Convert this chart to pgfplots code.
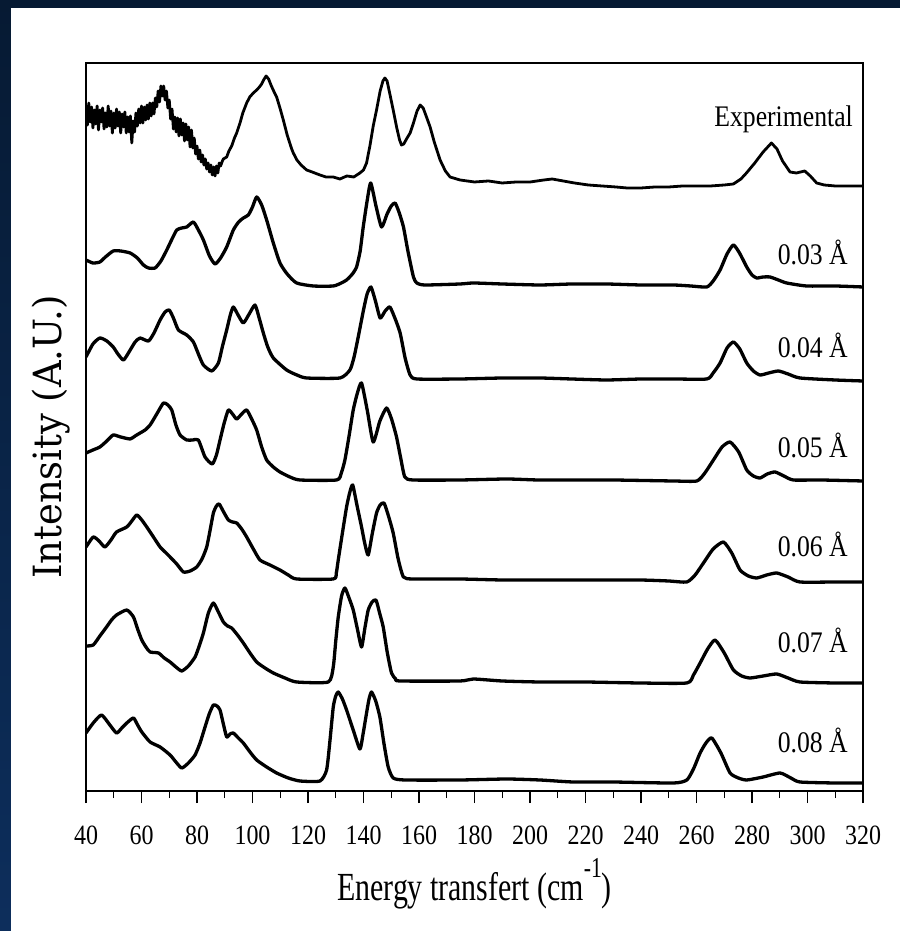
\documentclass[border=0pt]{standalone}
\usepackage{fontspec}
\setmainfont{Liberation Serif}
\newfontfamily\ylabfont{DejaVu Serif}[FakeStretch=0.95]
\newfontfamily\xlabfont{Liberation Serif}[FakeStretch=0.75]
\newfontfamily\tickfont{Liberation Serif}[FakeStretch=0.86]
\newfontfamily\notefont{Liberation Serif}[FakeStretch=0.86]
\usepackage{pgfplots}
\usepackage{pgfplotstable}
\pgfplotsset{compat=1.18}

\definecolor{navytop}{HTML}{061A33}
\definecolor{navybot}{HTML}{0D2E5C}

% Measured spectrum
\pgfplotstableread{
x y
40.0 684
40.5 666
41.0 688
41.5 669
42.0 684
42.5 663
43.0 681
43.5 667
44.0 685
44.5 661
45.0 681
45.5 669
46.0 683
46.5 662
47.0 678
47.5 664
48.0 685
48.5 665
49.0 680
49.5 658
50.0 678
50.5 663
51.0 682
51.5 665
52.0 679
52.5 658
53.0 677
53.5 664
54.0 679
54.5 658
55.0 674
55.5 659
56.0 675
56.5 648
57.0 670
57.5 659
58.0 678
58.5 665
59.0 682
59.5 668
60.0 685
60.5 668
61.0 684
61.5 671
62.0 686
62.5 672
63.0 688
63.5 675
64.0 688
64.5 677
65.0 693
65.5 684
66.0 700
66.5 689
67.0 705
67.5 695
68.0 705
68.5 691
69.0 700
69.5 683
70.0 691
70.5 672
71.0 682
71.5 662
72.0 674
72.5 659
73.0 673
73.5 655
74.0 672
74.5 656
75.0 668
75.5 650
76.0 667
76.5 651
77.0 664
77.5 644
78.0 661
78.5 643
79.0 653
79.5 637
80.0 645
80.5 632
81.0 641
81.5 629
82.0 636
82.5 626
83.0 632
83.5 622
84.0 628
84.5 619
85.0 626
85.5 616
86.0 624
86.5 615
87.0 625
87.5 618
88.0 628
88.5 625
89.0 629
89.5 632
90.7 634
91.5 640
92.5 645
93.5 653
94.3 658
95.5 668
96.5 678
97.9 688
99.0 694
100.3 698
101.5 701
102.5 704
103.3 707
104.0 711
104.9 715
105.8 712
106.8 705
107.8 699
108.7 694
110.0 682
111.1 671
112.5 656
114.0 643
114.7 638
116.0 631
117.5 626
119.5 621
121.5 619
124.3 616
126.5 614
129.1 614
131.5 612
134.0 615
136.5 614
138.7 618
140.0 621
141.1 628
142.3 645
143.5 665
144.7 681
146.0 700
147.0 710
147.7 713
148.5 710
149.5 697
150.7 681
152.0 663
153.0 651
153.7 646
154.5 647
155.5 652
156.8 658
158.0 668
159.3 680
160.4 686
161.5 683
162.7 674
164.0 664
165.5 649
167.6 631
169.5 620
171.2 614
174.8 611
180 609
185 610
190 608
195 609
200 609
205 611
208 612
212 610
216 608
221 606
226 605
231 604
235 603
240 603
245 604
250 604
255 605
260 605
265 605
270 606
273.3 607
276 612
278 618
281 628
284 639
287 648
289 642
291 630
293.7 619
296 618
299 620
301 615
303.3 608
306 606
310 605
315 605
320 605
}\expdata

% Calculated spectra, one per displacement amplitude
\pgfplotstableread{
x y
40.0 531
42.5 528
45.0 529
47.0 534
49.8 540
52.5 540
55.9 538
58.5 533
60.7 526
62.5 523
64.9 523
67.0 530
69.1 541
71.0 552
72.7 561
74.5 563
76.3 564
78.7 569
80.5 561
82.3 551
84.5 535
86.5 527
88.5 533
90.7 544
93.1 561
95.0 569
96.7 573
98.5 576
100.0 584
101.5 594
103.3 586
105.1 571
107.5 548
109.9 528
112.5 517
115.9 508
121.9 505
129.1 505
132.0 508
133.9 511
136.0 517
137.5 524
138.8 540
139.9 564
141.3 590
142.6 608
144.5 585
146.5 564
148.5 577
150.0 585
151.4 588
152.9 578
154.4 564
156.0 540
158.0 514
159.2 508
162.0 506
174.8 507
179.6 508
190 507
203.6 506
215 507
227.6 507
240 506
251.7 506
258 505
263.7 504
266 510
268.5 521
271 537
273.3 546
275.5 538
278.1 524
280 516
281.7 513
284 514
286.5 514
289.5 511
292.5 508
299.7 505
310 505
320 504
}\calcA

\pgfplotstableread{
x y
40.0 434
42.5 447
45.0 453
47.5 450
49.8 444
51.5 437
53.5 431
55.5 439
57.7 449
59.5 453
62.5 450
64.5 458
66.7 471
68.5 479
70.0 481
71.5 473
73.3 461
76.3 456
78.7 449
80.5 437
82.3 426
85.3 420
87.7 428
89.2 445
90.7 461
92.0 476
93.1 484
94.8 476
96.7 468
98.8 477
100.9 486
102.4 473
103.9 458
105.5 444
107.5 433
112.3 421
116 416
119.5 413
131.5 413
135.1 421
136.6 434
138.1 454
140.0 481
141.3 497
142.7 504
144.3 490
146.0 473
147.8 480
149.5 484
151.3 473
153.2 458
155.0 433
156.8 416
159.2 412
174.8 412
190 413
203.6 413
215 412
227.6 411
240 412
252 412
263.7 412
266 418
268.5 428
271 443
273.3 449
275.6 442
278.1 428
280.5 420
282.9 416
286 418
289.5 420
293 417
297.3 413
310 411
320 410
}\calcB

\pgfplotstableread{
x y
40.0 338
42.5 341
45.0 344
47.5 350
49.8 356
52.5 354
55.9 352
57.7 355
59.5 358
61.3 361
63.1 366
65.5 377
67.9 388
69.5 386
70.9 381
72.4 366
73.9 356
76.3 351
78.5 351
80.5 351
82.9 334
85.5 327
87.0 336
88.3 351
89.8 368
91.3 381
92.8 377
94.3 372
96.1 377
97.9 381
99.7 372
101.5 361
103.3 344
105.1 331
107.5 324
109.9 319
113.5 314
117.1 311
130.3 311
132.0 318
133.3 331
134.8 355
136.3 381
137.8 398
139.3 408
141.4 380
143.5 349
145.9 370
148.3 383
150.1 372
151.9 354
153.4 333
154.9 314
157.9 311
174.8 311
191.6 312
203 311
215.6 311
230 311
251.7 310
260.1 310
263 318
266.1 331
269.2 344
272.1 349
275.2 339
278.1 321
280.5 315
282.9 313
285.5 317
288.3 319
291.5 315
294.9 311
305 311
320 310
}\calcC

\pgfplotstableread{
x y
40.0 244
42.6 254
44.7 250
46.8 244
49.0 251
51.0 259
54.7 264
56.5 270
58.3 276
60.1 271
61.9 264
64.3 254
66.7 244
68.5 239
70.3 234
72.7 227
75.1 219
77.5 220
79.9 224
81.8 232
83.5 244
84.8 262
85.9 278
87.0 285
88.0 287
89.6 279
91.3 271
92.8 269
94.3 268
96.1 262
97.9 254
100.3 242
102.7 231
106.3 226
109.9 221
112.9 216
115.9 212
129.1 212
130.2 218
130.9 231
132.4 258
133.9 284
135.0 298
136.1 306
137.7 285
139.3 264
140.5 247
141.7 236
143.2 258
144.7 278
146.0 286
147.4 288
149.0 275
150.7 258
152.5 232
154.4 214
157.9 212
174.8 212
190 211
203.6 211
220 211
239.6 211
250 210
256.5 209
259.5 216
262.5 228
266 242
269.7 249
272.7 238
275.7 221
278.7 215
281.7 213
285.3 216
288.9 218
293 214
297.3 209
310 209
320 209
}\calcD

\pgfplotstableread{
x y
40.0 145
42.6 146
45.0 155
47.4 164
49.2 171
51.0 176
54.7 181
57.1 174
58.6 162
60.1 151
61.6 144
63.1 139
66.1 138
68.2 133
70.3 129
72.4 124
74.5 120
76.9 125
79.3 134
80.8 145
82.3 158
84.1 178
85.9 188
87.7 179
89.5 169
91.0 165
92.5 163
94.6 156
96.7 148
99.1 138
101.5 129
104.5 123
107.5 118
111.7 113
115.9 109
127.3 109
129.1 124
130.0 150
130.9 174
132.1 195
133.3 203
134.8 193
136.3 181
137.8 162
139.3 144
140.5 163
141.7 181
143.1 189
144.5 191
145.8 178
147.1 164
148.6 138
150.1 118
151.6 112
153.1 110
174.8 110
179.6 112
190 110
203.6 109
220 109
239.6 108
256.5 108
258.9 116
261.3 128
264 142
266.7 151
270 138
273.3 121
276.3 115
279.3 113
284 115
288.9 117
293 113
297.3 109
310 108
320 108
}\calcE

\pgfplotstableread{
x y
40.0 58
42.6 68
45.6 76
48.6 66
51.0 58
52.9 63
54.7 68
57.1 73
58.6 66
60.1 59
63.1 49
66.7 44
70.3 36
72.4 29
74.5 23
76.9 28
79.3 36
81.1 48
82.9 64
84.4 77
85.9 86
87.2 85
88.3 81
89.5 67
90.7 54
91.9 57
93.1 58
94.9 53
96.7 48
99.1 39
101.5 31
105.1 24
108.7 18
112.9 13
117.1 10
124.3 10
126.7 21
127.9 50
129.1 84
130.0 95
130.9 99
132.4 92
133.9 81
136.3 61
138.7 42
139.9 58
141.1 78
142.0 92
142.9 99
144.4 90
145.9 74
147.4 47
148.9 24
150.7 13
155 11
174.8 11
191.6 12
203.6 11
215.6 9
230 9
251.7 8
256.5 11
258.9 22
261.3 38
263.4 48
265.5 53
268.8 38
272.1 18
275.1 13
278.1 11
284 14
290.1 18
294 13
297.3 9
310 8
320 8
}\calcF

\begin{document}
\begin{tikzpicture}
% slide background and white panel
\useasboundingbox (0,0) rectangle (900bp,931bp);
\shade[top color=navytop, bottom color=navybot] (0,0) rectangle (900bp,931bp);
\fill[white] (11bp,0) rectangle (900bp,923bp);

\begin{axis}[
  at={(86bp,140bp)}, anchor=south west,
  scale only axis, width=777bp, height=728bp,
  xmin=40, xmax=320, ymin=0, ymax=728,
  xtick={40,60,...,320}, minor x tick num=1,
  ytick=\empty,
  xtick pos=bottom, tick align=outside,
  major tick length=12bp, minor tick length=7bp,
  axis line style={line width=1.3bp},
  every tick/.style={black, line width=1.3bp},
  /pgf/number format/assume math mode=true,
  xticklabel style={font=\tickfont\fontsize{28}{28}\selectfont, anchor=base, yshift=-41bp},
  every axis x label/.style={at={(axis description cs:0.5,0)}, anchor=base, yshift=-109bp},
  every axis y label/.style={at={(axis description cs:-0.0309,0.486)}, rotate=90, anchor=base},
  xlabel={\xlabfont\fontsize{40}{40}\selectfont Energy transfert (cm\raisebox{23bp}{\fontsize{29}{29}\selectfont -1})},
  ylabel={\ylabfont\fontsize{39}{39}\selectfont Intensity (A.U.)},
  clip=true,
]
\addplot[black, line width=2.8bp, line join=round] table {\expdata};
\addplot[black, line width=3.3bp, line join=round, smooth, tension=0.35] table {\calcA};
\addplot[black, line width=3.3bp, line join=round, smooth, tension=0.35] table {\calcB};
\addplot[black, line width=3.3bp, line join=round, smooth, tension=0.35] table {\calcC};
\addplot[black, line width=3.3bp, line join=round, smooth, tension=0.35] table {\calcD};
\addplot[black, line width=3.3bp, line join=round, smooth, tension=0.35] table {\calcE};
\addplot[black, line width=3.3bp, line join=round, smooth, tension=0.35] table {\calcF};

\begin{scope}[every node/.style={anchor=base east, inner sep=0pt, font=\notefont\fontsize{30}{30}\selectfont}]
\node at (axis cs:316.4,664) {Experimental};
\node at (axis cs:314.6,526) {0.03 Å};
\node at (axis cs:314.6,433) {0.04 Å};
\node at (axis cs:314.6,333) {0.05 Å};
\node at (axis cs:314.6,234) {0.06 Å};
\node at (axis cs:314.6,138) {0.07 Å};
\node at (axis cs:314.6,38) {0.08 Å};
\end{scope}
\end{axis}
\end{tikzpicture}
\end{document}
